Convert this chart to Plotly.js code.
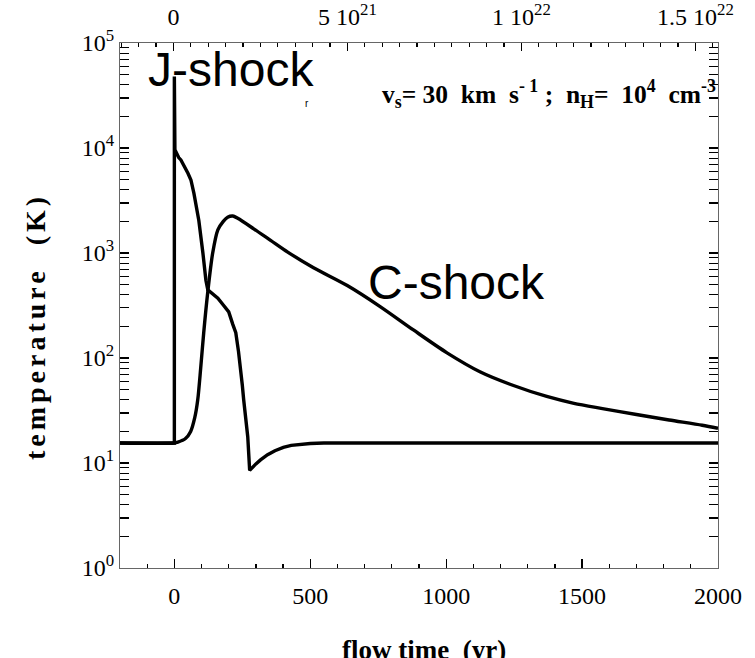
<!DOCTYPE html>
<html>
<head>
<meta charset="utf-8">
<script src="https://cdn.plot.ly/plotly-3.0.1.min.js"></script>
<style>html,body{margin:0;padding:0;background:#fff;}#chart{width:755px;height:658px;}</style>
</head>
<body>
<div id="chart"></div>
<script>
// J-shock temperature profile (flow time in yr, temperature in K)
const jTime = [-200, 0, 0, 2, 16, 24, 50, 61, 72, 90, 105, 116, 123, 140, 160, 180, 200, 215, 226, 236, 244, 250, 255, 263, 270, 277, 285, 300, 317, 343, 370, 401, 430, 464, 500, 550, 2000];
const jTemp = [15.5, 15.5, 48000, 9600, 8100, 7700, 5750, 4960, 3700, 2040, 1000, 550, 447, 407, 372, 320, 275, 209, 174, 115, 81, 55, 40, 26, 17.8, 8.5, 9.0, 9.8, 10.7, 12.0, 13.1, 14.1, 14.7, 15.1, 15.35, 15.5, 15.5];

// C-shock temperature profile
const cTime = [-200, 0, 13, 40, 60, 75, 86, 97, 108, 123, 141, 160, 180, 196, 215, 233, 292, 354, 417, 512, 636, 757, 878, 1003, 1124, 1245, 1370, 1470, 1575, 1700, 1820, 1942, 2000];
const cTemp = [15.5, 15.5, 15.8, 17, 20, 27, 40, 81, 174, 427, 1000, 1660, 2000, 2190, 2250, 2140, 1700, 1320, 1020, 724, 490, 309, 186, 112, 74, 55, 43, 37, 33, 29, 25.7, 22.9, 21.4];

// axis ticks
const xTickVals = [0, 500, 1000, 1500, 2000];
const xTickText = ['0', '500', '1000', '1500', '2000'];
const yTickVals = [1, 10, 100, 1000, 10000, 100000];
const yTickText = ['10<sup>0</sup>', '10<sup>1</sup>', '10<sup>2</sup>', '10<sup>3</sup>', '10<sup>4</sup>', '10<sup>5</sup>'];
const topTickVals = [0, 5e21, 1e22, 1.5e22];
const topTickText = ['0', '5 10<sup>21</sup>', '1 10<sup>22</sup>', '1.5 10<sup>22</sup>'];

// minor tick positions
const xMinor = [];
for (let v = -200; v <= 2000; v += 100) if (v % 500 !== 0) xMinor.push(v);
const yMinor = [];
for (let d = 0; d < 5; d++) for (let k = 2; k <= 9; k++) yMinor.push(k * Math.pow(10, d));
const topMinor = [];
for (let i = -3; i <= 31; i++) if (i % 10 !== 0) topMinor.push(i * 5e20);

const serif = 'Liberation Serif, Times New Roman, serif';
const sans = 'Liberation Sans, Arial, sans-serif';

const traces = [
  {x: jTime, y: jTemp, type: 'scatter', mode: 'lines', name: 'J-shock',
   line: {color: '#000', width: 3.4, shape: 'linear'}, hoverinfo: 'skip'},
  {x: cTime, y: cTemp, type: 'scatter', mode: 'lines', name: 'C-shock',
   line: {color: '#000', width: 3.4, shape: 'spline', smoothing: 0.8}, hoverinfo: 'skip'},
  // empty trace so the top (column density) axis is drawn
  {x: [], y: [], type: 'scatter', mode: 'lines', xaxis: 'x2', yaxis: 'y', hoverinfo: 'skip', showlegend: false}
];

const tickFont = {family: serif, size: 24, color: '#000'};

const layout = {
  width: 755, height: 658,
  margin: {l: 120, r: 37, t: 43, b: 90},
  paper_bgcolor: '#fff', plot_bgcolor: '#fff',
  showlegend: false,
  font: {family: serif, color: '#000', size: 24},
  xaxis: {
    range: [-200, 2000], autorange: false, tickmode: 'array', tickvals: xTickVals, ticktext: xTickText,
    ticks: 'inside', ticklen: 9, tickwidth: 1.2, tickcolor: '#000',
    minor: {tickmode: 'array', tickvals: xMinor, ticks: 'inside', ticklen: 4, tickwidth: 1.2, tickcolor: '#000', showgrid: false},
    showline: true, linecolor: '#666', linewidth: 1, mirror: true,
    showgrid: false, zeroline: false, tickfont: tickFont, ticklabelstandoff: 6
  },
  xaxis2: {
    overlaying: 'x', side: 'top', anchor: 'y',
    range: [-1.537e21, 1.565e22], autorange: false, tickmode: 'array', tickvals: topTickVals, ticktext: topTickText,
    ticks: 'inside', ticklen: 8, tickwidth: 1.2, tickcolor: '#000',
    minor: {tickmode: 'array', tickvals: topMinor, ticks: 'inside', ticklen: 4, tickwidth: 1.2, tickcolor: '#000', showgrid: false},
    showline: false, showgrid: false, zeroline: false, tickfont: tickFont, ticklabelstandoff: 12
  },
  yaxis: {
    type: 'log', range: [0, 5], autorange: false, tickmode: 'array', tickvals: yTickVals, ticktext: yTickText,
    ticks: 'inside', ticklen: 9, tickwidth: 1.2, tickcolor: '#000',
    minor: {tickmode: 'array', tickvals: yMinor, ticks: 'inside', ticklen: 4, tickwidth: 1.2, tickcolor: '#000', showgrid: false},
    showline: true, linecolor: '#666', linewidth: 1, mirror: 'allticks',
    showgrid: false, zeroline: false, tickfont: tickFont
  },
  annotations: [
    {xref: 'paper', yref: 'paper', x: 0.1856, y: 0.9486, text: 'J-shock', showarrow: false,
     xanchor: 'center', yanchor: 'middle', font: {family: sans, size: 48, color: '#000'}},
    {xref: 'paper', yref: 'paper', x: 0.5635, y: 0.5429, text: 'C-shock', showarrow: false,
     xanchor: 'center', yanchor: 'middle', font: {family: sans, size: 48, color: '#000'}},
    {xref: 'paper', yref: 'paper', x: 0.4348, y: 0.903, showarrow: false, xanchor: 'left', yanchor: 'middle',
     text: '<b>v<sub>s</sub>= 30  km  s<sup>- 1</sup> ;  n<sub>H</sub>=  10<sup>4</sup>  cm<sup>-3</sup></b>',
     font: {family: serif, size: 25.5, color: '#000'}},
    {xref: 'paper', yref: 'paper', x: 0.3127, y: 0.884, text: 'r', showarrow: false,
     xanchor: 'center', yanchor: 'middle', font: {family: sans, size: 10, color: '#000'}},
    {xref: 'paper', yref: 'paper', x: -0.142, y: 0.459, showarrow: false,
     text: '<b><span style="letter-spacing:4px">temperature  (K)</span></b>',
     textangle: -90, xanchor: 'center', yanchor: 'middle', font: {family: serif, size: 28, color: '#000'}},
    {xref: 'paper', yref: 'paper', x: 0.508, y: -0.1238, text: '<b>flow time  (yr)</b>', showarrow: false,
     xanchor: 'center', yanchor: 'top', font: {family: serif, size: 27, color: '#000'}}
  ]
};

Plotly.newPlot('chart', traces, layout, {staticPlot: true, displayModeBar: false});
</script>
</body>
</html>
